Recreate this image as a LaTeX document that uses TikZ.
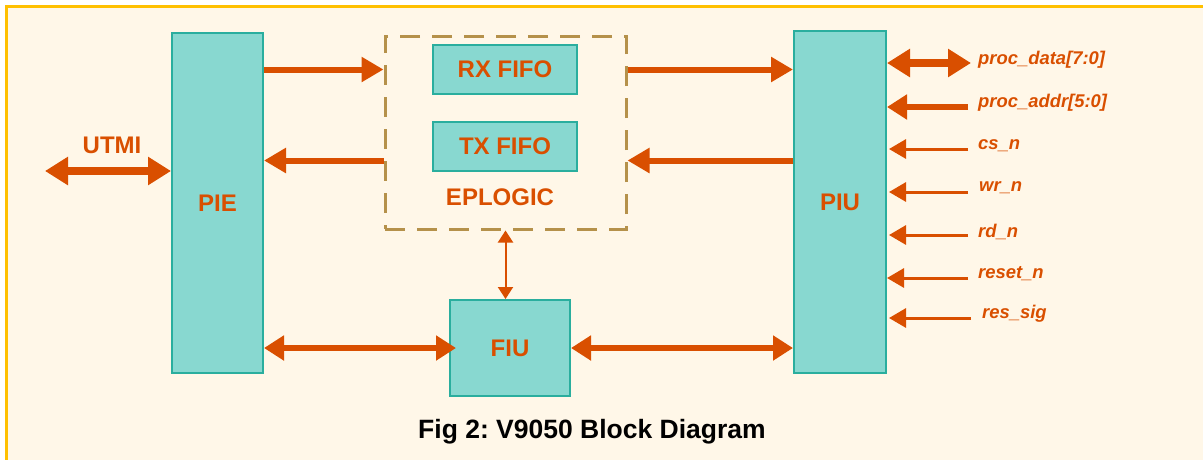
\documentclass[tikz,border=0pt]{standalone}
\usepackage{fontspec}
\setmainfont{Liberation Sans}
\usepackage{xcolor}
\usepackage{tikz}
\usetikzlibrary{arrows.meta, positioning, calc}

\definecolor{blockfill}{HTML}{88D8D0}
\definecolor{blockline}{HTML}{2AAE9E}
\definecolor{sigorange}{HTML}{D94F00}
\definecolor{pagefill}{HTML}{FFF7E8}
\definecolor{pageline}{HTML}{FFC000}
\definecolor{groupline}{HTML}{B5914A}

\begin{document}
\begin{tikzpicture}[
    x=1pt, y=-1pt,
    block/.style={draw=blockline, fill=blockfill, line width=2pt, text=sigorange, font=\bfseries\fontsize{24}{28}\selectfont, inner sep=0pt},
    group/.style={draw=groupline, dash pattern=on 20pt off 12pt, line width=3pt, minimum width=241pt, minimum height=193pt, inner sep=0pt},
    lbl/.style={text=sigorange, font=\bfseries\fontsize{24}{28}\selectfont, inner sep=0pt},
    sig/.style={text=sigorange, font=\bfseries\itshape\fontsize{18.4}{22}\selectfont, inner sep=0pt, anchor=west},
    bus/.style={draw=sigorange, line width=6pt, -{Triangle[length=22pt,width=24pt]}},
    dbus/.style={draw=sigorange, line width=6pt, {Triangle[length=20pt,width=24pt]}-{Triangle[length=20pt,width=24pt]}},
    wbus/.style={draw=sigorange, line width=8pt, {Triangle[length=23pt,width=27pt]}-{Triangle[length=23pt,width=27pt]}},
    wire/.style={draw=sigorange, line width=3pt, -{Triangle[length=17pt,width=19pt]}},
    link/.style={draw=sigorange, line width=2pt, {Triangle[length=12pt,width=15pt]}-{Triangle[length=12pt,width=15pt]}}
]
\useasboundingbox (0,0) rectangle (1203,459);
% Page frame
\draw[draw=pageline, fill=pagefill, line width=2.5pt] (6.5,6.5) rectangle (1215,475);

% Blocks
\node[block, minimum width=91pt, minimum height=340pt] (pie) at (217.5,203) {PIE};
\node[group] (eplogic) at (505.5,132.5) {};
\node[block, minimum width=144pt, minimum height=49pt] (rx) at (505,69.5) {RX FIFO};
\node[block, minimum width=144pt, minimum height=49pt, below=26pt of rx] (tx) {TX FIFO};
\node[lbl] (eplabel) at (500,197) {EPLOGIC};
\node[block, minimum width=120pt, minimum height=96pt] (fiu) at (510,348) {FIU};
\node[block, minimum width=92pt, minimum height=342pt] (piu) at (840,202) {PIU};

% UTMI port
\coordinate (usb) at (45,171);
\node[lbl] (utmi) at (112,145) {UTMI};
\draw[wbus] (usb) -- (pie.west |- usb);

% Internal buses
\draw[bus] (pie.east |- rx) -- (eplogic.west |- rx);
\draw[bus] ($(eplogic.west |- tx)+(0,14)$) -- ($(pie.east |- tx)+(0,14)$);
\draw[bus] (eplogic.east |- rx) -- (piu.west |- rx);
\draw[bus] ($(piu.west |- tx)+(0,14)$) -- ($(eplogic.east |- tx)+(0,14)$);
\draw[link] (eplogic.south) -- (eplogic.south |- fiu.north);
\draw[dbus, shorten >=-7pt] (pie.east |- fiu) -- (fiu.west);
\draw[dbus] (fiu.east) -- (piu.west |- fiu);

% Processor signals
\node[sig] (data) at (978,60) {proc\_data[7:0]};
\node[sig] (addr) at (978,103) {proc\_addr[5:0]};
\node[sig] (csn) at (978,146) {cs\_n};
\node[sig] (wrn) at (979,188) {wr\_n};
\node[sig] (rdn) at (978,232) {rd\_n};
\node[sig] (rstn) at (978,274) {reset\_n};
\node[sig] (ressig) at (982,314) {res\_sig};

\draw[wbus] ($(data.west)+(-7,3)$) -- ($(piu.east |- data.west)+(0,3)$);
\draw[bus, line width=6.5pt, -{Triangle[length=20pt,width=24pt]}] ($(addr.west)+(-10,4)$) -- ($(piu.east |- addr.west)+(0,4)$);
\draw[wire] ($(csn.west)+(-10,3)$) -- ($(piu.east |- csn.west)+(2,3)$);
\draw[wire] ($(wrn.west)+(-11,4)$) -- ($(piu.east |- wrn.west)+(2,4)$);
\draw[wire] ($(rdn.west)+(-10,3)$) -- ($(piu.east |- rdn.west)+(2,3)$);
\draw[wire] ($(rstn.west)+(-10,4)$) -- ($(piu.east |- rstn.west)+(0,4)$);
\draw[wire] ($(ressig.west)+(-11,4)$) -- ($(piu.east |- ressig.west)+(2,4)$);

% Caption
\node[font=\bfseries\fontsize{26.5}{30}\selectfont] (caption) at (592,432) {\frenchspacing Fig 2: V9050 Block Diagram};
\end{tikzpicture}
\end{document}
